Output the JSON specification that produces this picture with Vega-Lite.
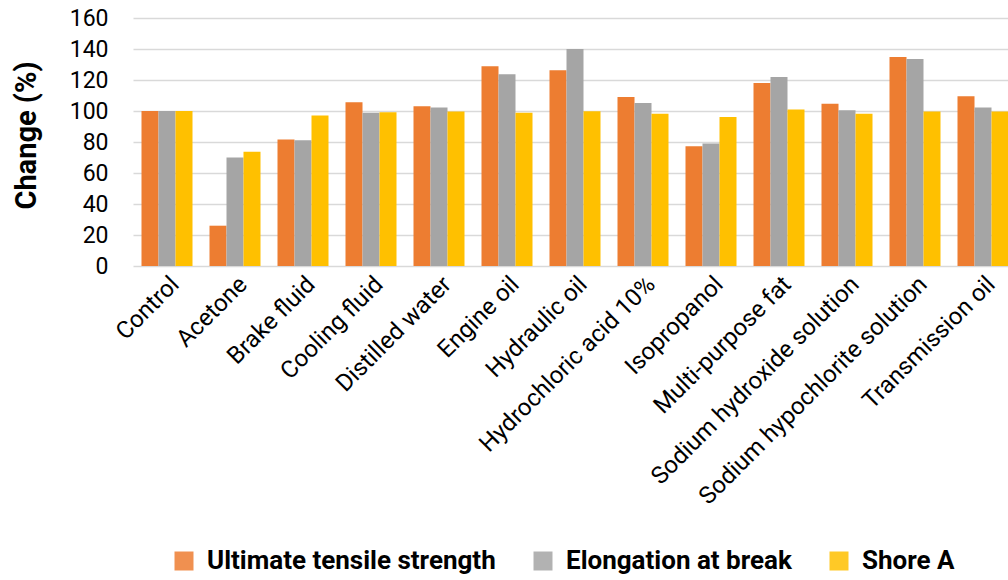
{
  "$schema": "https://vega.github.io/schema/vega-lite/v6.json",
  "width": 884,
  "height": 248,
  "autosize": "none",
  "padding": {"left": 133, "top": 18, "right": 0, "bottom": 314},
  "background": "white",
  "config": {
    "font": "Roboto",
    "view": {"stroke": null}
  },
  "data": {
    "values": [
      {"cat": "Control", "m": "Ultimate tensile strength", "v": 100},
      {"cat": "Control", "m": "Elongation at break", "v": 100},
      {"cat": "Control", "m": "Shore A", "v": 100},
      {"cat": "Acetone", "m": "Ultimate tensile strength", "v": 26},
      {"cat": "Acetone", "m": "Elongation at break", "v": 70},
      {"cat": "Acetone", "m": "Shore A", "v": 73.7},
      {"cat": "Brake fluid", "m": "Ultimate tensile strength", "v": 81.6},
      {"cat": "Brake fluid", "m": "Elongation at break", "v": 81.2},
      {"cat": "Brake fluid", "m": "Shore A", "v": 97.1},
      {"cat": "Cooling fluid", "m": "Ultimate tensile strength", "v": 105.6},
      {"cat": "Cooling fluid", "m": "Elongation at break", "v": 98.8},
      {"cat": "Cooling fluid", "m": "Shore A", "v": 99.2},
      {"cat": "Distilled water", "m": "Ultimate tensile strength", "v": 103},
      {"cat": "Distilled water", "m": "Elongation at break", "v": 102.2},
      {"cat": "Distilled water", "m": "Shore A", "v": 99.6},
      {"cat": "Engine oil", "m": "Ultimate tensile strength", "v": 128.8},
      {"cat": "Engine oil", "m": "Elongation at break", "v": 123.7},
      {"cat": "Engine oil", "m": "Shore A", "v": 98.8},
      {"cat": "Hydraulic oil", "m": "Ultimate tensile strength", "v": 126.3},
      {"cat": "Hydraulic oil", "m": "Elongation at break", "v": 140},
      {"cat": "Hydraulic oil", "m": "Shore A", "v": 99.8},
      {"cat": "Hydrochloric acid 10%", "m": "Ultimate tensile strength", "v": 109.1},
      {"cat": "Hydrochloric acid 10%", "m": "Elongation at break", "v": 105.2},
      {"cat": "Hydrochloric acid 10%", "m": "Shore A", "v": 98.2},
      {"cat": "Isopropanol", "m": "Ultimate tensile strength", "v": 77.3},
      {"cat": "Isopropanol", "m": "Elongation at break", "v": 79},
      {"cat": "Isopropanol", "m": "Shore A", "v": 96.2},
      {"cat": "Multi-purpose fat", "m": "Ultimate tensile strength", "v": 118.1},
      {"cat": "Multi-purpose fat", "m": "Elongation at break", "v": 122},
      {"cat": "Multi-purpose fat", "m": "Shore A", "v": 100.9},
      {"cat": "Sodium hydroxide solution", "m": "Ultimate tensile strength", "v": 104.6},
      {"cat": "Sodium hydroxide solution", "m": "Elongation at break", "v": 100.5},
      {"cat": "Sodium hydroxide solution", "m": "Shore A", "v": 98.2},
      {"cat": "Sodium hypochlorite solution", "m": "Ultimate tensile strength", "v": 134.9},
      {"cat": "Sodium hypochlorite solution", "m": "Elongation at break", "v": 133.6},
      {"cat": "Sodium hypochlorite solution", "m": "Shore A", "v": 99.6},
      {"cat": "Transmission oil", "m": "Ultimate tensile strength", "v": 109.5},
      {"cat": "Transmission oil", "m": "Elongation at break", "v": 102.2},
      {"cat": "Transmission oil", "m": "Shore A", "v": 99.6}
    ]
  },
  "mark": {"type": "bar"},
  "encoding": {
    "x": {
      "field": "cat",
      "type": "nominal",
      "sort": null,
      "scale": {"paddingInner": 0.25, "paddingOuter": 0.125},
      "axis": {
        "title": null,
        "labelAngle": -45,
        "labelFontSize": 24,
        "labelColor": "#000000",
        "labelPadding": 6,
        "ticks": false,
        "domain": false,
        "labelLimit": 0
      }
    },
    "xOffset": {
      "field": "m",
      "type": "nominal",
      "sort": ["Ultimate tensile strength", "Elongation at break", "Shore A"],
      "scale": {"paddingInner": 0, "paddingOuter": 0}
    },
    "y": {
      "field": "v",
      "type": "quantitative",
      "scale": {"domain": [0, 160], "nice": false},
      "axis": {
        "title": "Change (%)",
        "titleFontSize": 29,
        "titleFontWeight": "bold",
        "titleColor": "#000000",
        "titlePadding": 28,
        "titleY": 117,
        "values": [0, 20, 40, 60, 80, 100, 120, 140, 160],
        "labelFontSize": 23,
        "labelColor": "#000000",
        "labelPadding": 25,
        "ticks": false,
        "domain": false,
        "gridColor": "#d9d9d9",
        "gridWidth": 1.5
      }
    },
    "color": {
      "field": "m",
      "type": "nominal",
      "sort": ["Ultimate tensile strength", "Elongation at break", "Shore A"],
      "scale": {
        "domain": ["Ultimate tensile strength", "Elongation at break", "Shore A"],
        "range": ["#ED7D31", "#A5A5A5", "#FFC000"]
      },
      "legend": {
        "title": null,
        "orient": "none",
        "direction": "horizontal",
        "legendX": 38,
        "legendY": 530,
        "labelFontSize": 26,
        "labelFontWeight": "bold",
        "labelColor": "#000000",
        "symbolType": "square",
        "symbolSize": 361,
        "symbolStrokeWidth": 0,
        "symbolOpacity": 0.85,
        "labelOffset": 10,
        "columnPadding": 34,
        "labelLimit": 0
      }
    }
  }
}
